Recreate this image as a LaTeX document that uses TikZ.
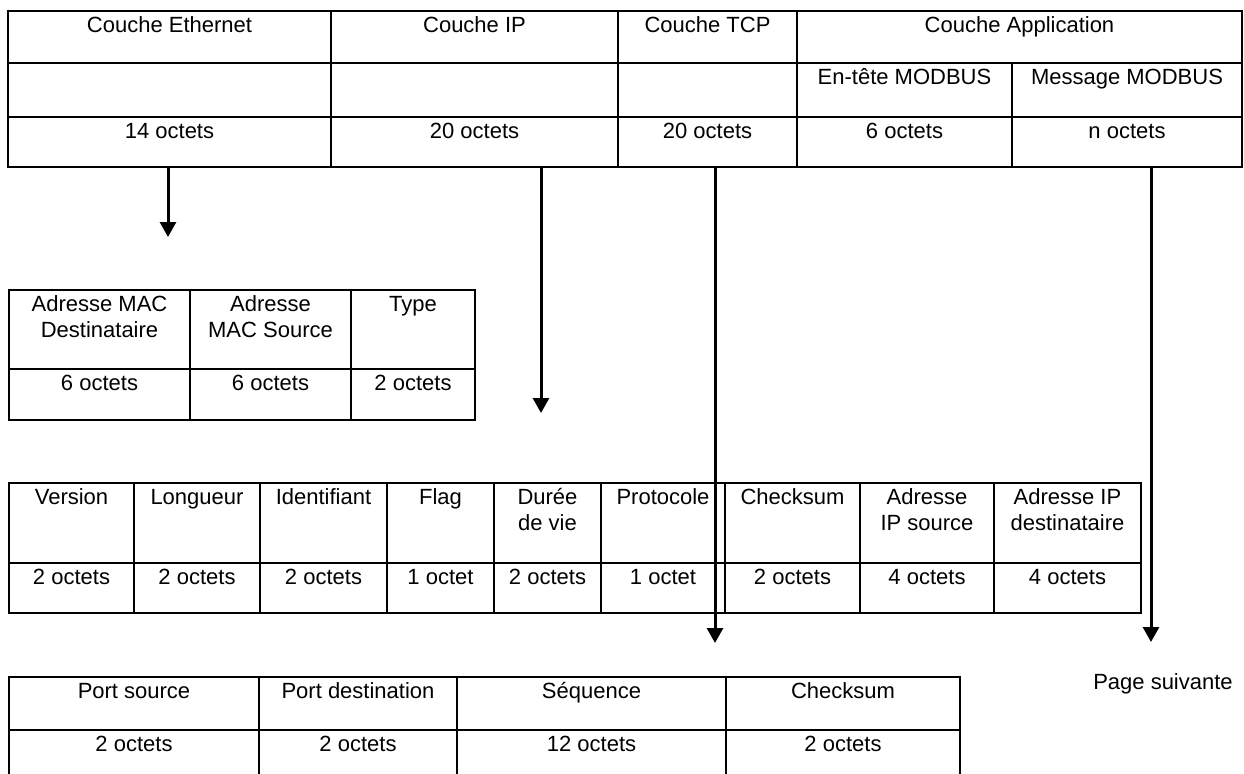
\documentclass[tikz,border=0pt]{standalone}
\usepackage{fontspec}
\setmainfont{Liberation Sans}
\usetikzlibrary{arrows.meta}

\begin{document}
\begin{tikzpicture}[x=0.5pt,y=-0.5pt,
  every node/.style={font=\fontsize{11}{12.8}\selectfont, inner sep=0pt, anchor=north, align=center},%texte en haut des cases
  trait/.style={line width=0.7pt},%traits des tableaux
  fleche/.style={line width=1.5pt,-{Triangle[width=8pt,length=7.5pt]}}]%fleches vers le detail
\useasboundingbox (0,0) rectangle (1244,773);
\clip (0,0) rectangle (1244,773);
\fill[white] (0,0) rectangle (1244,773);

% tableau des couches
\draw[trait] (8,11) rectangle (1242,167);
\draw[trait] (8,63) -- (1242,63) (8,117) -- (1242,117);
\draw[trait] (331,11) -- (331,167) (618,11) -- (618,167) (797,11) -- (797,167) (1012,63) -- (1012,167);
\node (cEth) at (169.5,14.5) {\strut Couche Ethernet};
\node (cIP) at (474.5,14.5) {\strut Couche IP};
\node (cTCP) at (707.5,14.5) {\strut Couche TCP};
\node (cApp) at (1019.5,14.5) {\strut Couche Application};
\node (enteteMB) at (904.5,66.5) {\strut En-tête MODBUS};
\node (msgMB) at (1127,66.5) {\strut Message MODBUS};
\node (oEth) at (169.5,120.5) {\strut 14 octets};
\node (oIP) at (474.5,120.5) {\strut 20 octets};
\node (oTCP) at (707.5,120.5) {\strut 20 octets};
\node (oEnt) at (904.5,120.5) {\strut 6 octets};
\node (oMsg) at (1127,120.5) {\strut n octets};

% trame Ethernet
\draw[trait] (9,290) rectangle (475,420);
\draw[trait] (9,369) -- (475,369) (190,290) -- (190,420) (351,290) -- (351,420);
\node (macDst) at (99.5,293.5) {\strut Adresse MAC\\Destinataire};
\node (macSrc) at (270.5,293.5) {\strut Adresse\\MAC Source};
\node (type) at (413,293.5) {\strut Type};
\node (oMacDst) at (99.5,372.5) {\strut 6 octets};
\node (oMacSrc) at (270.5,372.5) {\strut 6 octets};
\node (oType) at (413,372.5) {\strut 2 octets};

% en-tete IP
\draw[trait] (9,483) rectangle (1141,613);
\draw[trait] (9,563) -- (1141,563);
\draw[trait] (134,483) -- (134,613) (260,483) -- (260,613) (387,483) -- (387,613) (494,483) -- (494,613)
  (601,483) -- (601,613) (725,483) -- (725,613) (860,483) -- (860,613) (994,483) -- (994,613);
\node (version) at (71.5,486.5) {\strut Version};
\node (longueur) at (197,486.5) {\strut Longueur};
\node (ident) at (323.5,486.5) {\strut Identifiant};
\node (flag) at (440.5,486.5) {\strut Flag};
\node (duree) at (547.5,486.5) {\strut Durée\\de vie};
\node (proto) at (663,486.5) {\strut Protocole};
\node (chkIP) at (792.5,486.5) {\strut Checksum};
\node (ipSrc) at (927,486.5) {\strut Adresse\\IP source};
\node (ipDst) at (1067.5,486.5) {\strut Adresse IP\\destinataire};
\node (oVersion) at (71.5,566.5) {\strut 2 octets};
\node (oLongueur) at (197,566.5) {\strut 2 octets};
\node (oIdent) at (323.5,566.5) {\strut 2 octets};
\node (oFlag) at (440.5,566.5) {\strut 1 octet};
\node (oDuree) at (547.5,566.5) {\strut 2 octets};
\node (oProto) at (663,566.5) {\strut 1 octet};
\node (oChkIP) at (792.5,566.5) {\strut 2 octets};
\node (oIpSrc) at (927,566.5) {\strut 4 octets};
\node (oIpDst) at (1067.5,566.5) {\strut 4 octets};

% en-tete TCP
\draw[trait] (9,800) -- (9,677) -- (960,677) -- (960,800);
\draw[trait] (9,730) -- (960,730) (259,677) -- (259,800) (457,677) -- (457,800) (726,677) -- (726,800);
\node (portSrc) at (134,680.5) {\strut Port source};
\node (portDst) at (358,680.5) {\strut Port destination};
\node (seq) at (591.5,680.5) {\strut Séquence};
\node (chkTCP) at (843,680.5) {\strut Checksum};
\node (oPortSrc) at (134,733.5) {\strut 2 octets};
\node (oPortDst) at (358,733.5) {\strut 2 octets};
\node (oSeq) at (591.5,733.5) {\strut 12 octets};
\node (oChkTCP) at (843,733.5) {\strut 2 octets};

\node (suite) at (1163,671) {\strut Page suivante};

% fleches
\coordinate (depEth) at (168,167);
\coordinate (finEth) at (168,237);
\coordinate (depIP) at (541,167);
\coordinate (finIP) at (541,413);
\coordinate (depTCP) at (715,167);
\coordinate (finTCP) at (715,643);
\coordinate (depApp) at (1151,167);
\coordinate (finApp) at (1151,642);
\draw[fleche] (depEth) -- (finEth);
\draw[fleche] (depIP) -- (finIP);
\draw[fleche] (depTCP) -- (finTCP);
\draw[fleche] (depApp) -- (finApp);

\end{tikzpicture}
\end{document}
